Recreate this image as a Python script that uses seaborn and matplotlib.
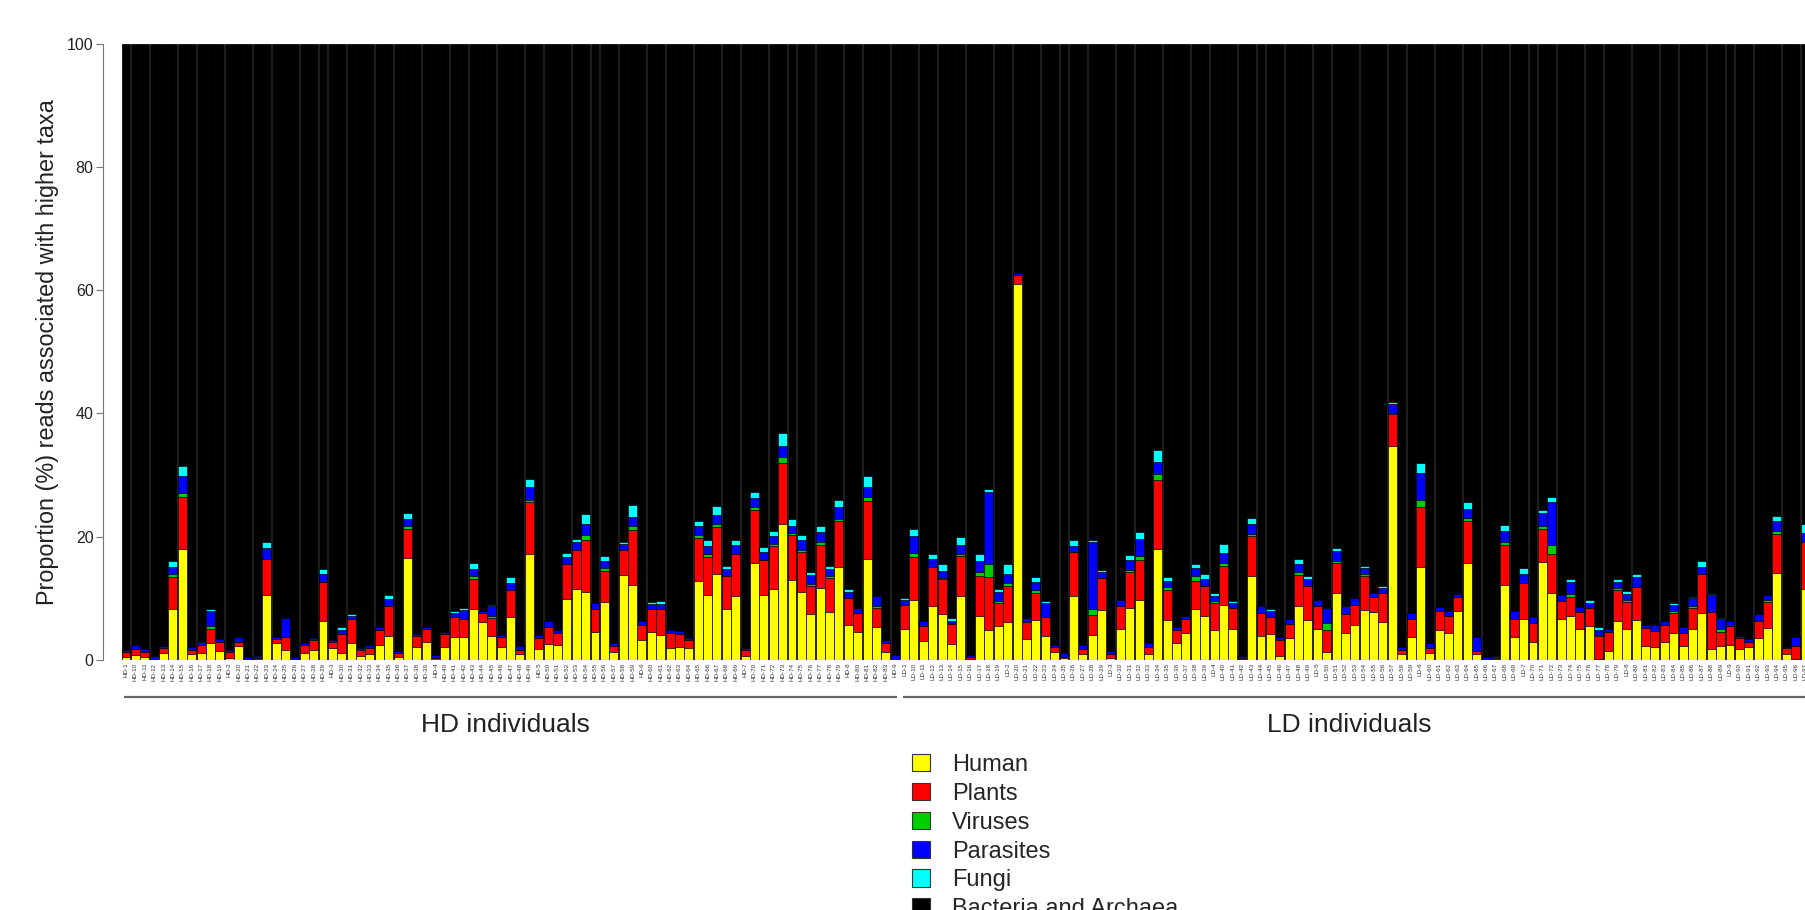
import matplotlib
matplotlib.use("Agg")
import matplotlib.pyplot as plt
import matplotlib.transforms as mtransforms
from matplotlib.patches import Patch
import numpy as np
import pandas as pd
import seaborn as sns

# ---------------- data ----------------
hd_count = 83
ld_count = 97
hd_samples = sorted([f"HD-{i}" for i in range(1, hd_count + 1)])
ld_samples = sorted([f"LD-{i}" for i in range(1, ld_count + 1)])
samples = hd_samples + ld_samples

human = [0.5, 0.75, 0.55, 0.1, 1.1, 8.2, 18.0, 0.9, 1.1, 2.7,
         1.5, 0.4, 2.3, 0.05, 0.1, 10.6, 2.7, 1.7, 0.05, 1.1,
         1.7, 6.4, 1.9, 1.1, 2.8, 0.7, 0.9, 2.5, 3.9, 0.5,
         16.5, 2.1, 2.9, 0.05, 2.1, 3.8, 3.8, 8.2, 6.2, 3.9,
         2.1, 6.9, 0.9, 17.2, 1.8, 2.6, 2.5, 9.9, 11.5, 11.1,
         4.6, 9.4, 1.3, 13.8, 12.2, 3.2, 4.6, 4.1, 2.0, 2.1,
         1.9, 12.8, 10.5, 13.9, 8.3, 10.4, 0.7, 15.7, 10.6, 11.5,
         22.0, 12.9, 11.1, 7.4, 11.7, 7.8, 15.1, 5.7, 4.6, 16.4,
         5.4, 1.3, 0.1, 5.1, 9.7, 3.1, 8.8, 7.5, 2.6, 10.4,
         0.1, 7.2, 4.8, 5.5, 6.2, 61.0, 3.4, 6.5, 3.9, 1.3,
         0.3, 10.4, 0.9, 4.1, 8.1, 0.3, 5.0, 8.5, 9.7, 0.9,
         18.0, 6.5, 2.7, 4.3, 8.3, 7.2, 4.8, 9.0, 5.0, 0.1,
         13.6, 3.9, 4.2, 0.6, 3.5, 8.8, 6.5, 5.1, 1.3, 10.9,
         4.4, 5.7, 8.1, 7.8, 6.2, 34.8, 0.9, 3.7, 15.1, 1.1,
         4.8, 4.3, 7.9, 15.7, 1.0, 0.05, 0.1, 12.2, 3.7, 6.6,
         3.0, 15.9, 10.8, 6.7, 7.2, 5.1, 5.5, 0.1, 1.4, 6.4,
         5.0, 6.5, 2.3, 2.1, 2.9, 4.3, 2.3, 5.0, 7.6, 1.8,
         2.3, 2.5, 1.8, 2.1, 3.6, 5.2, 14.1, 0.9, 0.1, 11.5]
plants = [0.8, 1.0, 0.75, 0.0, 0.8, 5.3, 8.4, 0.7, 1.4, 2.4,
          1.5, 0.9, 0.7, 0.0, 0.2, 5.8, 0.7, 2.1, 0.0, 1.3,
          1.5, 6.3, 1.0, 3.1, 3.8, 0.9, 1.1, 2.3, 4.9, 0.7,
          4.8, 1.8, 2.1, 0.2, 2.1, 3.1, 2.9, 5.0, 1.4, 2.9,
          1.6, 4.5, 0.7, 8.4, 1.7, 2.8, 1.9, 5.7, 6.3, 8.4,
          3.7, 5.1, 1.0, 4.0, 8.9, 2.4, 3.6, 4.2, 2.4, 2.1,
          1.4, 7.0, 6.2, 7.7, 5.4, 6.8, 0.9, 8.6, 5.6, 7.0,
          10.0, 7.4, 6.4, 4.6, 7.0, 5.5, 7.4, 4.3, 3.0, 9.4,
          3.0, 1.4, 0.0, 3.8, 7.0, 2.4, 6.3, 5.6, 3.2, 6.4,
          0.4, 6.5, 8.6, 3.7, 5.8, 1.5, 2.8, 4.4, 3.0, 0.8,
          0.2, 7.2, 0.9, 3.2, 5.2, 0.6, 3.8, 5.8, 6.5, 1.2,
          11.2, 4.9, 2.2, 2.3, 4.5, 4.8, 4.4, 6.2, 3.4, 0.3,
          6.5, 3.8, 2.7, 2.7, 2.4, 5.0, 5.5, 3.6, 3.5, 4.8,
          3.0, 3.3, 5.5, 2.4, 4.7, 5.1, 0.7, 3.0, 9.7, 0.8,
          3.1, 2.9, 2.3, 6.9, 0.5, 0.0, 0.2, 6.5, 2.9, 5.9,
          3.0, 5.4, 6.4, 2.9, 3.1, 2.7, 2.9, 3.8, 3.1, 4.9,
          4.4, 5.3, 2.9, 2.6, 2.8, 3.4, 2.1, 3.5, 6.3, 6.0,
          2.3, 3.0, 1.7, 0.8, 2.8, 4.2, 6.4, 1.0, 2.2, 7.6]
viruses = [0, 0, 0, 0, 0, 0.4, 0.7, 0, 0, 0.4,
           0, 0, 0, 0, 0, 0, 0, 0, 0, 0,
           0, 0, 0, 0, 0, 0, 0, 0, 0, 0,
           0.5, 0, 0, 0, 0, 0, 0, 0.4, 0, 0.4,
           0, 0, 0, 0.4, 0, 0, 0, 0, 0, 0.8,
           0, 0.4, 0, 0, 0.6, 0, 0, 0, 0, 0,
           0, 0.5, 0.5, 0.4, 0, 0, 0, 0.5, 0, 0.3,
           0.9, 0.3, 0.4, 0.3, 0.4, 0.4, 0.4, 0, 0, 0.6,
           0.3, 0, 0, 0, 0.6, 0, 0, 0.2, 0, 0.4,
           0, 0.5, 2.1, 0.4, 0.5, 0, 0, 0.4, 0, 0,
           0, 0, 0, 0.9, 0, 0, 0, 0.3, 0.6, 0,
           0.9, 0.4, 0, 0, 0.9, 0, 0.4, 0.6, 0, 0,
           0.4, 0, 0, 0, 0, 0.4, 0, 0, 1.2, 0.3,
           0, 0, 0.4, 0, 0, 0.2, 0, 0, 1.1, 0,
           0, 0, 0, 0.4, 0, 0, 0, 0.4, 0, 0,
           0, 0.5, 1.4, 0, 0.4, 0, 0, 0.2, 0, 0.4,
           0.4, 0, 0, 0, 0, 0.3, 0, 0.3, 0, 0,
           0.4, 0, 0, 0, 0, 0.4, 0.4, 0, 0, 0]
parasites = [0.4, 0.65, 0.5, 0.5, 0.3, 1.2, 2.7, 0.5, 0.5, 2.5,
             0.4, 0.4, 0.8, 0.4, 0.4, 1.7, 0.4, 3.0, 0.5, 0.4,
             0.3, 1.2, 0.4, 0.7, 0.5, 0.3, 0.5, 0.5, 1.1, 0.3,
             1.0, 0.3, 0.3, 0.5, 0.4, 0.8, 1.4, 1.1, 0.4, 1.5,
             0.4, 1.1, 0.6, 2.0, 0.5, 1.0, 0.4, 1.1, 1.3, 1.7,
             0.9, 1.2, 0.4, 1.1, 1.5, 0.7, 0.9, 0.8, 0.5, 0.5,
             0.3, 1.5, 1.3, 1.5, 1.1, 1.4, 0.3, 1.5, 1.3, 1.3,
             1.9, 1.2, 1.5, 1.5, 1.6, 1.1, 2.0, 1.0, 0.8, 1.7,
             1.7, 0.5, 0.7, 0.9, 2.8, 0.8, 1.3, 1.2, 0.6, 1.5,
             0.3, 1.9, 11.7, 1.5, 1.5, 0.3, 0.6, 1.3, 2.3, 0.4,
             0.6, 0.9, 0.7, 11.0, 1.0, 0.6, 1.0, 1.6, 2.9, 0.6,
             2.1, 1.0, 0.4, 0.6, 1.3, 1.2, 0.8, 1.5, 0.8, 0.3,
             1.5, 1.0, 1.1, 0.5, 0.7, 1.4, 1.2, 1.1, 2.4, 1.7,
             1.3, 1.0, 1.0, 0.6, 0.8, 1.4, 0.5, 1.0, 4.5, 0.8,
             0.7, 0.8, 0.5, 1.5, 2.2, 0.5, 0.4, 1.8, 1.3, 1.4,
             1.0, 2.0, 7.0, 1.0, 1.9, 0.8, 0.9, 0.7, 0.5, 0.9,
             0.9, 1.7, 0.5, 0.9, 0.6, 0.9, 0.9, 1.2, 1.2, 2.7,
             1.6, 0.8, 0.4, 0.5, 1.0, 0.8, 1.7, 0.2, 1.5, 1.5]
fungi = [0, 0, 0, 0, 0, 0.9, 1.7, 0, 0, 0.3,
         0, 0, 0, 0, 0, 1.0, 0, 0, 0, 0,
         0, 0.9, 0, 0.4, 0.4, 0, 0, 0, 0.6, 0,
         1.0, 0, 0, 0, 0, 0.2, 0.3, 1.0, 0, 0.3,
         0, 0.9, 0, 1.4, 0, 0, 0, 0.6, 0.6, 1.7,
         0, 0.8, 0, 0.2, 1.9, 0, 0.3, 0.4, 0, 0,
         0, 0.8, 1.0, 1.5, 0.5, 0.9, 0, 1.0, 0.8, 0.9,
         2.0, 1.1, 0.9, 0.5, 1.0, 0.4, 1.1, 0.6, 0, 1.7,
         0, 0, 0, 0.2, 1.2, 0, 0.8, 1.1, 0.4, 1.3,
         0, 1.1, 0.6, 0.4, 1.5, 0, 0, 0.8, 0.4, 0,
         0, 1.0, 0, 0.3, 0.3, 0, 0, 0.8, 1.1, 0,
         1.8, 0.6, 0, 0, 0.5, 0.8, 0.4, 1.6, 0.3, 0,
         1.0, 0, 0.3, 0, 0, 0.8, 0.4, 0, 0, 0.5,
         0, 0, 0.3, 0, 0.3, 0.4, 0, 0, 1.6, 0,
         0, 0, 0, 1.1, 0, 0, 0, 1.0, 0, 1.1,
         0, 0.6, 0.8, 0, 0.6, 0, 0.4, 0.5, 0, 0.6,
         0.5, 0.4, 0, 0, 0, 0.4, 0, 0.2, 0.9, 0.2,
         0.2, 0, 0, 0, 0, 0, 0.8, 0, 0, 1.4]

categories = ["Human", "Plants", "Viruses", "Parasites", "Fungi", "Bacteria and Archaea"]
colors = ["#FFFF00", "#FF0000", "#00CD00", "#0000FF", "#00FFFF", "#000000"]
group_names = ["HD individuals", "LD individuals"]
group_sizes = [hd_count, ld_count]
yticks = [0, 20, 40, 60, 80, 100]

# ---------------- table ----------------
df = pd.DataFrame({"sample": samples, "Human": human, "Plants": plants,
                   "Viruses": viruses, "Parasites": parasites, "Fungi": fungi})
df["Bacteria and Archaea"] = 100 - df[categories[:5]].sum(axis=1)
cum = df[categories].cumsum(axis=1)
for c in categories:
    df["cum_" + c] = cum[c]

# ---------------- style ----------------
sns.set_style("white")
plt.rcParams["font.family"] = ["Liberation Sans", "DejaVu Sans"]

W, H = 1805, 910
fig = plt.figure(figsize=(W / 100, H / 100), dpi=100, facecolor="white")
n = len(samples)
x_lo, x_hi = -0.46, n - 1 + 0.46
px_per_unit = 9.38
ax_left = 121.7
ax_w = (x_hi - x_lo) * px_per_unit
ax_bottom = H - 660.0
ax_h = 660.0 - 43.7
ax = fig.add_axes([ax_left / W, ax_bottom / H, ax_w / W, ax_h / H])
ax.set_facecolor("#c8c8c8")

for cat, col in reversed(list(zip(categories, colors))):
    sns.barplot(data=df, x="sample", y="cum_" + cat, order=samples, color=col,
                saturation=1, width=0.955, edgecolor="black", linewidth=0.5,
                errorbar=None, ax=ax)

# groups
trans = mtransforms.blended_transform_factory(ax.transData, ax.transAxes)
start = 0
for name, size in zip(group_names, group_sizes):
    s, e = start, start + size - 1
    ax.plot([s - 0.2, e + 0.2], [-0.060, -0.060], transform=trans, color="#666666",
            lw=1.6, clip_on=False, solid_capstyle="butt")
    ax.text((s + e) / 2 - 0.6, -0.1055, name, transform=trans, ha="center", va="center",
            fontsize=19, color="#222222")
    start += size

ax.set_xlim(x_lo, x_hi)
ax.set_ylim(0, 100)
for sp in ["top", "right", "bottom"]:
    ax.spines[sp].set_visible(False)
ax.spines["left"].set_position(("outward", 13.5))
ax.spines["left"].set_bounds(0, 100)
ax.spines["left"].set_color("#777777")
ax.spines["left"].set_linewidth(0.8)

ax.set_yticks(yticks)
ax.set_yticklabels([str(v) for v in yticks])
ax.tick_params(axis="y", length=4.8, width=0.8, color="#777777", labelsize=11.5,
               labelcolor="#222222", pad=2, left=True)
ax.tick_params(axis="x", length=0, labelsize=4.5, labelrotation=90, pad=2,
               labelcolor="#333333")
ax.set_xlabel("")
ax.set_ylabel("Proportion (%) reads associated with higher taxa", fontsize=16.8,
              color="#222222", labelpad=6)

handles = [Patch(facecolor=c, edgecolor="#333333", linewidth=0.8, label=l)
           for l, c in zip(categories, colors)]
fig.legend(handles=handles, loc="upper left", bbox_to_anchor=(912 / W, 1 - 754 / H),
           frameon=False, fontsize=17, handlelength=0.76, handleheight=0.76,
           handletextpad=0.93, labelspacing=0.29, borderpad=0, borderaxespad=0)

fig.savefig("out.png", dpi=100, facecolor="white")
